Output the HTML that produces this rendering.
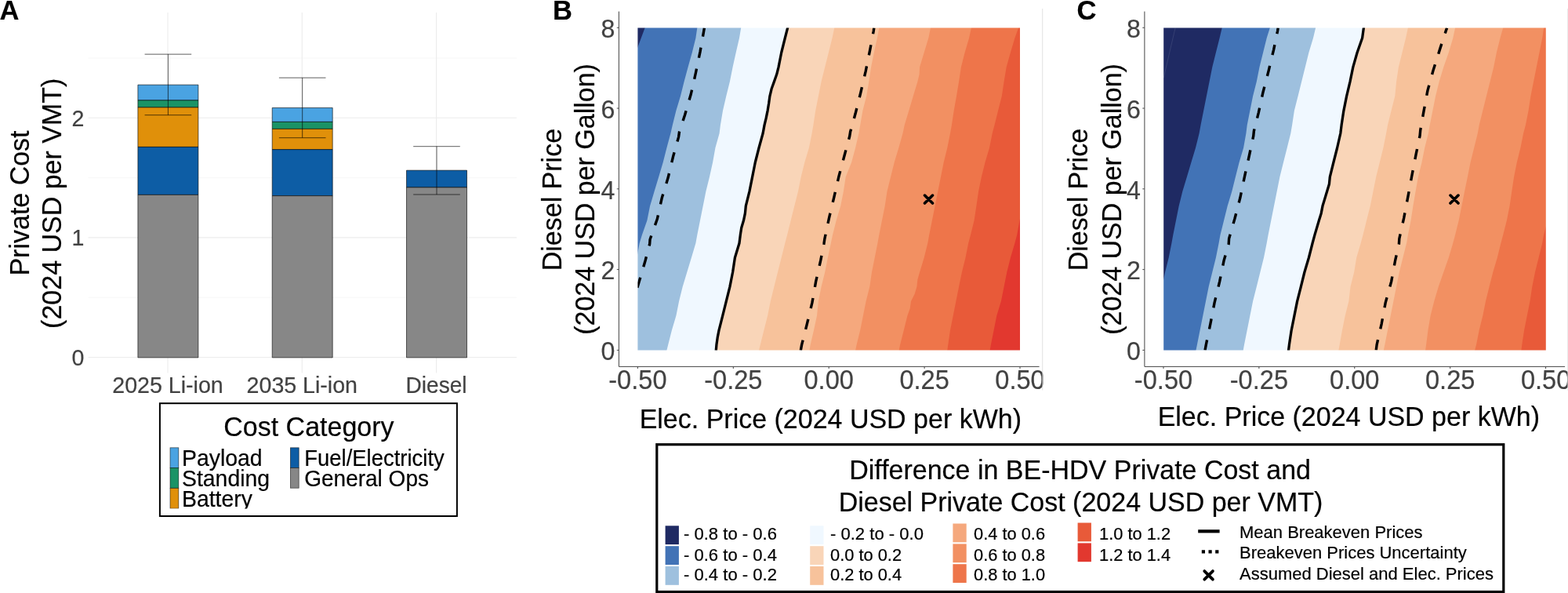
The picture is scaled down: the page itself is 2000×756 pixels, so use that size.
<!DOCTYPE html>
<html lang="en">
<head>
<meta charset="utf-8">
<title>Private cost comparison figure</title>
<style>
html,body{margin:0;padding:0;background:#fff;}
body{width:2000px;height:756px;overflow:hidden;}
svg{display:block;}
svg text{font-family:"Liberation Sans", sans-serif;stroke-width:0.2px;stroke-linejoin:round;}
</style>
</head>
<body>
<svg width="2000" height="756" viewBox="0 0 2000 756" role="img" aria-label="Private cost comparison of battery-electric and diesel heavy-duty vehicles">
<rect x="0" y="0" width="2000" height="756" fill="#ffffff"/>
<g id="panelA">
<line x1="112.5" x2="659" y1="379.20" y2="379.20" stroke="#f3f3f3" stroke-width="0.7"/>
<line x1="112.5" x2="659" y1="226.60" y2="226.60" stroke="#f3f3f3" stroke-width="0.7"/>
<line x1="112.5" x2="659" y1="74.00" y2="74.00" stroke="#f3f3f3" stroke-width="0.7"/>
<line x1="112.5" x2="659" y1="455.50" y2="455.50" stroke="#ececec" stroke-width="1.1"/>
<line x1="112.5" x2="659" y1="302.90" y2="302.90" stroke="#ececec" stroke-width="1.1"/>
<line x1="112.5" x2="659" y1="150.30" y2="150.30" stroke="#ececec" stroke-width="1.1"/>
<line x1="214.0" x2="214.0" y1="16" y2="475.5" stroke="#ececec" stroke-width="1.1"/>
<line x1="385.3" x2="385.3" y1="16" y2="475.5" stroke="#ececec" stroke-width="1.1"/>
<line x1="556.6" x2="556.6" y1="16" y2="475.5" stroke="#ececec" stroke-width="1.1"/>
<rect x="175.90" y="108.15" width="77.0" height="19.75" fill="#4AA3E2" stroke="#000" stroke-opacity="0.7" stroke-width="0.85" stroke-linejoin="round"/>
<rect x="175.90" y="127.90" width="77.0" height="9.00" fill="#1A9366" stroke="#000" stroke-opacity="0.7" stroke-width="0.85" stroke-linejoin="round"/>
<rect x="175.90" y="136.90" width="77.0" height="50.50" fill="#E0900A" stroke="#000" stroke-opacity="0.7" stroke-width="0.85" stroke-linejoin="round"/>
<rect x="175.90" y="187.40" width="77.0" height="61.00" fill="#0D5DA5" stroke="#000" stroke-opacity="0.7" stroke-width="0.85" stroke-linejoin="round"/>
<rect x="175.90" y="248.40" width="77.0" height="207.50" fill="#878787" stroke="#000" stroke-opacity="0.7" stroke-width="0.85" stroke-linejoin="round"/>
<rect x="347.20" y="137.40" width="77.0" height="18.00" fill="#4AA3E2" stroke="#000" stroke-opacity="0.7" stroke-width="0.85" stroke-linejoin="round"/>
<rect x="347.20" y="155.40" width="77.0" height="9.00" fill="#1A9366" stroke="#000" stroke-opacity="0.7" stroke-width="0.85" stroke-linejoin="round"/>
<rect x="347.20" y="164.40" width="77.0" height="26.25" fill="#E0900A" stroke="#000" stroke-opacity="0.7" stroke-width="0.85" stroke-linejoin="round"/>
<rect x="347.20" y="190.65" width="77.0" height="59.00" fill="#0D5DA5" stroke="#000" stroke-opacity="0.7" stroke-width="0.85" stroke-linejoin="round"/>
<rect x="347.20" y="249.65" width="77.0" height="206.25" fill="#878787" stroke="#000" stroke-opacity="0.7" stroke-width="0.85" stroke-linejoin="round"/>
<rect x="518.50" y="217.15" width="77.0" height="21.75" fill="#0D5DA5" stroke="#000" stroke-opacity="0.7" stroke-width="0.85" stroke-linejoin="round"/>
<rect x="518.50" y="238.90" width="77.0" height="217.00" fill="#878787" stroke="#000" stroke-opacity="0.7" stroke-width="0.85" stroke-linejoin="round"/>
<path d="M184.60 69.15H244.20M214.40 69.15V146.70M184.60 146.70H244.20" fill="none" stroke="#000" stroke-opacity="0.7" stroke-width="0.9"/>
<path d="M355.90 99.15H415.50M385.70 99.15V175.70M355.90 175.70H415.50" fill="none" stroke="#000" stroke-opacity="0.7" stroke-width="0.9"/>
<path d="M527.20 186.70H586.80M557.00 186.70V248.00M527.20 248.00H586.80" fill="none" stroke="#000" stroke-opacity="0.7" stroke-width="0.9"/>
<text transform="translate(107.30 465.80) scale(1 1.05)" font-size="28.6" fill="#424242" stroke="#424242" text-anchor="end">0</text>
<text transform="translate(107.30 313.20) scale(1 1.05)" font-size="28.6" fill="#424242" stroke="#424242" text-anchor="end">1</text>
<text transform="translate(107.30 160.60) scale(1 1.05)" font-size="28.6" fill="#424242" stroke="#424242" text-anchor="end">2</text>
<text transform="translate(214.00 501.00) scale(1 1.04)" font-size="28.6" fill="#424242" stroke="#424242" text-anchor="middle">2025 Li-ion</text>
<text transform="translate(385.30 501.00) scale(1 1.04)" font-size="28.6" fill="#424242" stroke="#424242" text-anchor="middle">2035 Li-ion</text>
<text transform="translate(556.60 501.00) scale(1 1.04)" font-size="28.6" fill="#424242" stroke="#424242" text-anchor="middle" textLength="78.0" lengthAdjust="spacingAndGlyphs">Diesel</text>
<text transform="translate(37.40 259.00) rotate(-90) scale(1 1.03)" font-size="34" fill="#000" stroke="#000" text-anchor="middle">Private Cost</text>
<text transform="translate(77.90 259.30) rotate(-90) scale(1 1.03)" font-size="34" fill="#000" stroke="#000" text-anchor="middle">(2024 USD per VMT)</text>
<text transform="translate(-0.50 24.90) scale(1 1.03)" font-size="34.5" fill="#000" stroke="#000" font-weight="bold">A</text>
<rect x="203.9" y="514.2" width="379.0" height="143.8" fill="#fff" stroke="#000" stroke-width="2"/>
<text transform="translate(393.90 556.40) scale(1 1.03)" font-size="34" fill="#000" stroke="#000" text-anchor="middle">Cost Category</text>
<clipPath id="clipLA"><rect x="205" y="515" width="377" height="133.6"/></clipPath>
<g clip-path="url(#clipLA)">
<rect x="217.0" y="570.8" width="10.8" height="25.8" fill="#4AA3E2" stroke="#000" stroke-opacity="0.62" stroke-width="0.8"/>
<text transform="translate(232.00 594.30) scale(1 1.03)" font-size="28.4" fill="#000" stroke="#000">Payload</text>
<rect x="217.0" y="596.4" width="10.8" height="25.8" fill="#1A9366" stroke="#000" stroke-opacity="0.62" stroke-width="0.8"/>
<text transform="translate(232.00 620.00) scale(1 1.03)" font-size="28.4" fill="#000" stroke="#000">Standing</text>
<rect x="217.0" y="622.4" width="10.8" height="25.8" fill="#E0900A" stroke="#000" stroke-opacity="0.62" stroke-width="0.8"/>
<text transform="translate(232.00 646.00) scale(1 1.03)" font-size="28.4" fill="#000" stroke="#000">Battery</text>
<rect x="370.4" y="570.8" width="10.8" height="25.8" fill="#0D5DA5" stroke="#000" stroke-opacity="0.62" stroke-width="0.8"/>
<text transform="translate(388.20 594.30) scale(1 1.03)" font-size="28.4" fill="#000" stroke="#000" textLength="178.6" lengthAdjust="spacingAndGlyphs">Fuel/Electricity</text>
<rect x="370.4" y="596.4" width="10.8" height="25.8" fill="#878787" stroke="#000" stroke-opacity="0.62" stroke-width="0.8"/>
<text transform="translate(388.20 620.00) scale(1 1.03)" font-size="28.4" fill="#000" stroke="#000" textLength="158.8" lengthAdjust="spacingAndGlyphs">General Ops</text>
</g>
</g>
<svg x="0" y="0" width="1330.4" height="756" viewBox="0 0 1330.4 756" overflow="hidden">
<g id="B">
<rect x="812.40" y="34.5" width="489.60" height="413.10" fill="#1F2A63"/>
<path d="M1303.0 448.6L1303.0 33.5L823.4 33.5L822.6 35.6L813.3 60.6L811.4 65.7L811.4 448.6Z" fill="#4273B6"/>
<path d="M1303.0 448.6L1303.0 33.5L889.6 33.5L889.3 35.6L887.4 48.5L882.8 67.0L877.6 85.6L872.6 104.1L868.0 122.6L862.4 141.1L857.8 159.6L855.4 170.0L850.4 188.5L845.7 207.0L840.2 225.6L834.6 244.1L829.1 262.6L825.4 281.1L818.9 299.6L815.7 310.0L813.3 323.0L811.4 333.3L811.4 448.6Z" fill="#9EC0DE"/>
<path d="M1303.0 448.6L1303.0 33.5L945.6 33.5L945.2 35.6L943.0 48.5L938.7 67.0L934.6 85.6L930.9 104.1L926.3 122.6L922.0 141.1L918.9 159.6L917.6 170.0L912.4 188.5L909.1 207.0L905.0 225.6L900.4 244.1L896.7 262.6L893.0 281.1L889.3 299.6L887.4 310.0L881.9 328.5L876.3 347.0L870.7 365.6L866.1 384.1L862.4 402.6L856.9 421.1L852.2 439.6L850.4 446.7L849.9 448.6Z" fill="#F0F8FF"/>
<path d="M1303.0 448.6L1303.0 33.5L1005.1 33.5L1004.6 35.6L1001.3 48.5L996.7 67.0L993.0 85.6L990.7 94.8L987.4 104.1L984.1 113.3L981.9 122.6L980.6 131.9L979.1 141.1L977.2 150.4L975.0 159.6L973.1 170.0L968.0 188.5L963.3 207.0L959.6 225.6L955.9 244.1L951.3 262.6L950.4 271.9L948.5 281.1L945.7 290.4L944.3 299.6L943.0 310.0L937.4 328.5L934.6 347.0L930.9 365.6L926.3 384.1L921.7 402.6L917.0 421.1L915.2 430.4L913.9 439.6L913.3 446.7L913.1 448.6Z" fill="#F9D5B8"/>
<path d="M1303.0 448.6L1303.0 33.5L1064.8 33.5L1064.3 35.6L1061.5 48.5L1056.9 67.0L1052.2 85.6L1047.6 104.1L1043.9 122.6L1040.2 141.1L1037.4 159.6L1035.6 170.0L1031.9 188.5L1026.3 207.0L1021.7 225.6L1018.0 244.1L1013.3 262.6L1008.7 281.1L1004.1 299.6L1001.3 310.0L996.7 328.5L992.0 347.0L987.4 365.6L982.8 384.1L979.1 402.6L974.4 421.1L969.8 439.6L968.0 446.7L967.5 448.6Z" fill="#F7C29B"/>
<path d="M1303.0 448.6L1303.0 33.5L1121.7 33.5L1121.3 35.6L1118.9 48.5L1114.8 67.0L1111.1 85.6L1108.3 104.1L1105.2 122.6L1100.4 141.1L1097.2 159.6L1095.4 170.0L1091.1 188.5L1086.1 207.0L1078.7 225.6L1075.9 244.1L1072.2 262.6L1066.7 281.1L1062.0 299.6L1059.8 310.0L1055.9 328.5L1052.2 347.0L1047.6 365.6L1043.9 384.1L1042.0 402.6L1038.0 421.1L1033.7 439.6L1032.4 446.7L1032.1 448.6Z" fill="#F5A87D"/>
<path d="M1303.0 448.6L1303.0 33.5L1187.4 33.5L1187.0 35.6L1184.3 48.5L1178.7 67.0L1173.1 85.6L1172.6 94.8L1170.4 104.1L1164.8 122.6L1159.3 141.1L1153.7 159.6L1151.5 170.0L1146.3 188.5L1140.7 207.0L1136.1 225.6L1131.5 244.1L1128.7 262.6L1125.0 281.1L1121.3 299.6L1119.4 310.0L1115.7 328.5L1112.0 347.0L1109.3 365.6L1104.6 384.1L1100.9 402.6L1097.2 421.1L1092.6 439.6L1091.1 446.7L1090.7 448.6Z" fill="#F29062"/>
<path d="M1303.0 448.6L1303.0 33.5L1239.4 33.5L1238.9 35.6L1236.1 48.5L1230.6 67.0L1225.9 85.6L1223.1 104.1L1220.0 122.6L1216.7 141.1L1213.9 159.6L1212.0 170.0L1208.3 188.5L1203.7 207.0L1200.0 225.6L1196.3 244.1L1192.6 262.6L1188.9 281.1L1185.2 299.6L1183.3 310.0L1178.7 328.5L1173.1 347.0L1170.4 356.3L1169.4 365.6L1166.7 374.8L1162.0 384.1L1160.7 393.3L1157.4 402.6L1152.8 421.1L1148.1 439.6L1146.7 446.7L1146.3 448.6Z" fill="#EE754A"/>
<path d="M1303.0 448.6L1303.0 33.5L1299.9 33.5L1299.1 35.6L1294.4 48.5L1288.9 67.0L1283.7 85.6L1280.6 104.1L1277.8 122.6L1273.1 141.1L1268.5 159.6L1265.7 170.0L1262.0 188.5L1256.5 207.0L1251.9 225.6L1248.1 244.1L1245.4 262.6L1242.6 281.1L1238.0 299.6L1235.2 310.0L1231.5 328.5L1226.9 347.0L1223.1 365.6L1219.4 384.1L1215.7 402.6L1212.0 421.1L1209.3 439.6L1208.3 446.7L1208.0 448.6Z" fill="#E85A39"/>
<path d="M1303.0 448.6L1303.0 267.8L1300.9 279.3L1297.2 299.6L1294.4 310.0L1288.9 328.5L1284.3 347.0L1280.6 365.6L1276.9 384.1L1271.3 402.6L1267.6 421.1L1263.9 439.6L1262.6 446.7L1262.3 448.6Z" fill="#E2382F"/>
<path d="M1006.1 29.6L1004.6 35.6L1001.3 48.5L996.7 67.0L993.0 85.6L990.7 94.8L987.4 104.1L984.1 113.3L981.9 122.6L980.6 131.9L979.1 141.1L977.2 150.4L975.0 159.6L973.1 170.0L968.0 188.5L963.3 207.0L959.6 225.6L955.9 244.1L951.3 262.6L950.4 271.9L948.5 281.1L945.7 290.4L944.3 299.6L943.0 310.0L937.4 328.5L934.6 347.0L930.9 365.6L926.3 384.1L921.7 402.6L917.0 421.1L915.2 430.4L913.9 439.6L913.3 446.7L912.8 452.7" fill="none" stroke="#000" stroke-width="3.3" stroke-linejoin="round"/>
<path d="M898.4 35.6L897.6 40.2L893.0 66.1L887.4 93.0L881.3 120.0L873.5 146.7L866.5 168.0L865.6 174.6L858.7 199.1L852.2 226.3L844.3 252.2L838.3 279.3L829.1 305.2L828.7 311.0L823.1 332.2L815.2 359.1L813.3 365.6L811.8 370.6" fill="none" stroke="#000" stroke-width="3.4" stroke-dasharray="13.4 14.2" stroke-dashoffset="2.2" stroke-linejoin="round"/>
<path d="M1114.8 35.6L1114.3 39.3L1109.6 64.1L1104.1 91.1L1097.8 118.1L1091.1 144.8L1084.6 168.0L1083.7 173.7L1077.2 197.8L1070.0 224.6L1063.9 251.1L1057.4 278.3L1051.9 304.3L1050.9 311.0L1046.7 332.2L1040.6 359.1L1035.9 385.9L1029.4 412.8L1022.6 439.6L1021.3 446.7L1020.4 451.7" fill="none" stroke="#000" stroke-width="3.4" stroke-dasharray="13.4 14.2" stroke-dashoffset="5.6" stroke-linejoin="round"/>
<path d="M801.40 23.50H1313.00V458.60H801.40Z M813.40 35.50V446.60H1301.00V35.50Z" fill="#fff" fill-rule="evenodd"/>
<path d="M1179.50 249.10L1189.50 259.10M1179.50 259.10L1189.50 249.10" stroke="#000" stroke-width="3.6" stroke-linecap="round" fill="none"/>
<path d="M789.40 14.6V467.4H1325.60" fill="none" stroke="#444" stroke-width="1.0"/>
<line x1="786.80" x2="789.40" y1="446.40" y2="446.40" stroke="#4a4a4a" stroke-width="1.0"/>
<text transform="translate(784.30 459.10) scale(1 1.03)" font-size="32.2" fill="#424242" stroke="#424242" text-anchor="end">0</text>
<line x1="786.80" x2="789.40" y1="343.62" y2="343.62" stroke="#4a4a4a" stroke-width="1.0"/>
<text transform="translate(784.30 356.32) scale(1 1.03)" font-size="32.2" fill="#424242" stroke="#424242" text-anchor="end">2</text>
<line x1="786.80" x2="789.40" y1="240.84" y2="240.84" stroke="#4a4a4a" stroke-width="1.0"/>
<text transform="translate(784.30 253.54) scale(1 1.03)" font-size="32.2" fill="#424242" stroke="#424242" text-anchor="end">4</text>
<line x1="786.80" x2="789.40" y1="138.06" y2="138.06" stroke="#4a4a4a" stroke-width="1.0"/>
<text transform="translate(784.30 150.76) scale(1 1.03)" font-size="32.2" fill="#424242" stroke="#424242" text-anchor="end">6</text>
<line x1="786.80" x2="789.40" y1="35.28" y2="35.28" stroke="#4a4a4a" stroke-width="1.0"/>
<text transform="translate(784.30 47.98) scale(1 1.03)" font-size="32.2" fill="#424242" stroke="#424242" text-anchor="end">8</text>
<line x1="813.40" x2="813.40" y1="467.4" y2="470.0" stroke="#444" stroke-width="1.0"/>
<text transform="translate(813.40 496.10) scale(1 1.08)" font-size="32.6" fill="#424242" stroke="#424242" text-anchor="middle">-0.50</text>
<line x1="935.30" x2="935.30" y1="467.4" y2="470.0" stroke="#444" stroke-width="1.0"/>
<text transform="translate(935.30 496.10) scale(1 1.08)" font-size="32.6" fill="#424242" stroke="#424242" text-anchor="middle">-0.25</text>
<line x1="1057.20" x2="1057.20" y1="467.4" y2="470.0" stroke="#444" stroke-width="1.0"/>
<text transform="translate(1057.20 496.10) scale(1 1.08)" font-size="32.6" fill="#424242" stroke="#424242" text-anchor="middle">0.00</text>
<line x1="1179.10" x2="1179.10" y1="467.4" y2="470.0" stroke="#444" stroke-width="1.0"/>
<text transform="translate(1179.10 496.10) scale(1 1.08)" font-size="32.6" fill="#424242" stroke="#424242" text-anchor="middle">0.25</text>
<line x1="1301.00" x2="1301.00" y1="467.4" y2="470.0" stroke="#444" stroke-width="1.0"/>
<text transform="translate(1301.00 496.10) scale(1 1.08)" font-size="32.6" fill="#424242" stroke="#424242" text-anchor="middle">0.50</text>
<text transform="translate(715.80 254.60) rotate(-90) scale(1 1.03)" font-size="34" fill="#000" stroke="#000" text-anchor="middle">Diesel Price</text>
<text transform="translate(758.30 254.00) rotate(-90) scale(1 1.03)" font-size="34" fill="#000" stroke="#000" text-anchor="middle">(2024 USD per Gallon)</text>
<text transform="translate(1059.30 546.00) scale(1 1.03)" font-size="34" fill="#000" stroke="#000" text-anchor="middle">Elec. Price (2024 USD per kWh)</text>
</g>
</svg>
<line x1="1329.7" x2="1329.7" y1="11" y2="497.5" stroke="#d4d4d4" stroke-width="0.7"/>
<g id="C">
<rect x="1483.20" y="34.5" width="489.60" height="413.10" fill="#1F2A63"/>
<path d="M1973.8 448.6L1973.8 33.5L1559.2 33.5L1558.7 35.6L1555.6 48.5L1550.9 67.0L1546.3 85.6L1542.6 104.1L1538.9 122.6L1535.2 141.1L1531.5 159.6L1529.6 170.0L1525.0 188.5L1519.4 207.0L1513.9 225.6L1508.3 244.1L1503.7 262.6L1500.0 281.1L1496.3 299.6L1494.4 310.0L1490.7 328.5L1486.1 347.0L1484.3 355.4L1482.2 365.2L1482.2 448.6Z" fill="#4273B6"/>
<path d="M1973.8 448.6L1973.8 33.5L1620.5 33.5L1619.8 35.6L1615.7 48.5L1611.1 67.0L1606.5 85.6L1602.8 104.1L1598.1 122.6L1594.4 141.1L1590.7 159.6L1589.4 170.0L1586.1 188.5L1580.6 207.0L1575.9 225.6L1571.3 244.1L1565.7 262.6L1561.1 281.1L1556.5 299.6L1554.6 310.0L1550.9 328.5L1546.3 347.0L1541.7 365.6L1538.0 384.1L1534.3 402.6L1530.6 421.1L1526.9 439.6L1525.4 446.7L1525.0 448.6Z" fill="#9EC0DE"/>
<path d="M1973.8 448.6L1973.8 33.5L1678.6 33.5L1678.1 35.6L1675.0 48.5L1669.4 67.0L1664.8 85.6L1660.2 104.1L1655.6 122.6L1650.9 141.1L1648.1 159.6L1646.3 170.0L1641.7 188.5L1637.0 207.0L1632.4 225.6L1628.7 244.1L1625.0 262.6L1621.3 281.1L1617.6 299.6L1615.7 310.0L1612.0 328.5L1607.4 347.0L1602.8 365.6L1598.1 384.1L1594.4 402.6L1590.7 421.1L1587.0 439.6L1585.7 446.7L1585.4 448.6Z" fill="#F0F8FF"/>
<path d="M1973.8 448.6L1973.8 33.5L1739.7 33.5L1739.4 35.6L1737.6 48.5L1731.1 67.0L1725.8 85.6L1722.0 104.1L1717.6 122.6L1713.9 141.1L1711.1 159.6L1709.8 170.0L1705.6 188.5L1700.9 207.0L1696.3 225.6L1695.4 234.8L1692.6 244.1L1687.0 262.6L1685.2 271.9L1682.4 281.1L1676.9 299.6L1674.1 310.0L1669.4 328.5L1663.9 347.0L1659.3 365.6L1654.6 384.1L1650.9 402.6L1647.2 421.1L1644.4 439.6L1643.5 446.7L1643.3 448.6Z" fill="#F9D5B8"/>
<path d="M1973.8 448.6L1973.8 33.5L1796.4 33.5L1795.9 35.6L1793.1 48.5L1788.5 67.0L1783.9 85.6L1781.1 104.1L1779.3 122.6L1774.6 141.1L1770.0 159.6L1768.1 170.0L1764.4 188.5L1759.8 207.0L1755.2 225.6L1751.5 244.1L1747.8 262.6L1743.1 281.1L1738.5 299.6L1735.7 310.0L1730.2 328.5L1727.2 347.0L1722.5 365.6L1720.4 384.1L1715.7 402.6L1712.0 421.1L1708.7 439.6L1707.4 446.7L1707.1 448.6Z" fill="#F7C29B"/>
<path d="M1973.8 448.6L1973.8 33.5L1856.6 33.5L1856.1 35.6L1853.3 48.5L1847.8 67.0L1841.3 85.6L1835.7 104.1L1831.1 122.6L1827.4 141.1L1823.7 159.6L1821.9 170.0L1817.2 188.5L1813.5 207.0L1808.9 225.6L1805.6 244.1L1802.4 262.6L1799.6 281.1L1795.9 299.6L1794.1 310.0L1789.4 328.5L1784.8 347.0L1781.1 365.6L1777.4 384.1L1773.7 402.6L1770.0 421.1L1766.3 439.6L1764.8 446.7L1764.4 448.6Z" fill="#F5A87D"/>
<path d="M1973.8 448.6L1973.8 33.5L1917.8 33.5L1917.2 35.6L1913.5 48.5L1908.9 67.0L1905.2 85.6L1900.6 104.1L1895.9 122.6L1891.3 141.1L1886.7 159.6L1884.8 170.0L1880.2 188.5L1875.6 207.0L1871.9 225.6L1868.1 244.1L1864.4 262.6L1860.7 281.1L1856.1 299.6L1853.3 310.0L1847.8 328.5L1841.3 347.0L1834.8 365.6L1829.3 384.1L1824.6 402.6L1821.5 421.1L1819.1 439.6L1818.1 446.7L1817.8 448.6Z" fill="#F29062"/>
<path d="M1973.8 448.6L1973.8 33.5L1969.4 33.5L1969.1 35.6L1967.2 48.5L1963.5 67.0L1959.8 85.6L1956.1 104.1L1952.4 122.6L1949.6 141.1L1945.9 159.6L1943.1 170.0L1939.4 188.5L1934.8 207.0L1931.1 225.6L1928.3 244.1L1925.6 262.6L1921.9 281.1L1917.2 299.6L1914.4 310.0L1909.8 328.5L1904.3 347.0L1899.6 365.6L1895.0 384.1L1891.3 402.6L1886.7 421.1L1883.0 439.6L1881.1 446.7L1880.6 448.6Z" fill="#EE754A"/>
<path d="M1973.8 448.6L1973.8 281.0L1971.9 288.5L1969.1 299.6L1967.2 310.0L1962.6 328.5L1958.0 347.0L1954.3 365.6L1951.5 384.1L1947.8 402.6L1944.1 421.1L1941.3 439.6L1940.4 446.7L1940.2 448.6Z" fill="#E85A39"/>
<path d="M1740.2 29.6L1739.4 35.6L1737.6 48.5L1731.1 67.0L1725.8 85.6L1722.0 104.1L1717.6 122.6L1713.9 141.1L1711.1 159.6L1709.8 170.0L1705.6 188.5L1700.9 207.0L1696.3 225.6L1695.4 234.8L1692.6 244.1L1687.0 262.6L1685.2 271.9L1682.4 281.1L1676.9 299.6L1674.1 310.0L1669.4 328.5L1663.9 347.0L1659.3 365.6L1654.6 384.1L1650.9 402.6L1647.2 421.1L1644.4 439.6L1643.5 446.7L1642.7 452.7" fill="none" stroke="#000" stroke-width="3.3" stroke-linejoin="round"/>
<path d="M1630.2 35.6L1629.6 39.3L1624.6 63.3L1618.1 90.4L1611.1 117.2L1605.2 144.1L1599.4 167.0L1598.7 173.7L1593.5 197.8L1587.6 224.6L1582.0 251.5L1575.0 278.5L1567.6 304.3L1567.2 311.0L1561.1 332.2L1555.6 359.1L1549.1 385.9L1543.9 412.8L1538.3 439.6L1537.0 446.7L1536.1 451.7" fill="none" stroke="#000" stroke-width="3.4" stroke-dasharray="13.4 14.2" stroke-dashoffset="5.7" stroke-linejoin="round"/>
<path d="M1845.6 35.6L1844.4 38.9L1836.7 62.4L1828.3 88.9L1820.9 115.6L1815.9 142.4L1811.7 166.1L1811.1 172.8L1806.1 196.9L1800.9 223.7L1795.9 250.6L1790.7 277.8L1784.8 304.3L1784.4 311.0L1779.6 332.2L1774.6 359.1L1767.2 385.9L1762.2 412.8L1756.1 439.6L1755.2 446.7L1754.6 451.7" fill="none" stroke="#000" stroke-width="3.4" stroke-dasharray="13.4 14.2" stroke-dashoffset="6.2" stroke-linejoin="round"/>
<path d="M1499.1 35.6L1486.1 91.1L1484.3 99" fill="none" stroke="#fff" stroke-opacity="0.14" stroke-width="0.7"/>
<path d="M1472.20 23.50H1983.80V458.60H1472.20Z M1484.20 35.50V446.60H1971.80V35.50Z" fill="#fff" fill-rule="evenodd"/>
<path d="M1850.00 249.10L1860.00 259.10M1850.00 259.10L1860.00 249.10" stroke="#000" stroke-width="3.6" stroke-linecap="round" fill="none"/>
<path d="M1459.90 14.6V467.4H1996.10" fill="none" stroke="#444" stroke-width="1.0"/>
<line x1="1457.30" x2="1459.90" y1="446.40" y2="446.40" stroke="#4a4a4a" stroke-width="1.0"/>
<text transform="translate(1454.80 459.10) scale(1 1.03)" font-size="32.2" fill="#424242" stroke="#424242" text-anchor="end">0</text>
<line x1="1457.30" x2="1459.90" y1="343.62" y2="343.62" stroke="#4a4a4a" stroke-width="1.0"/>
<text transform="translate(1454.80 356.32) scale(1 1.03)" font-size="32.2" fill="#424242" stroke="#424242" text-anchor="end">2</text>
<line x1="1457.30" x2="1459.90" y1="240.84" y2="240.84" stroke="#4a4a4a" stroke-width="1.0"/>
<text transform="translate(1454.80 253.54) scale(1 1.03)" font-size="32.2" fill="#424242" stroke="#424242" text-anchor="end">4</text>
<line x1="1457.30" x2="1459.90" y1="138.06" y2="138.06" stroke="#4a4a4a" stroke-width="1.0"/>
<text transform="translate(1454.80 150.76) scale(1 1.03)" font-size="32.2" fill="#424242" stroke="#424242" text-anchor="end">6</text>
<line x1="1457.30" x2="1459.90" y1="35.28" y2="35.28" stroke="#4a4a4a" stroke-width="1.0"/>
<text transform="translate(1454.80 47.98) scale(1 1.03)" font-size="32.2" fill="#424242" stroke="#424242" text-anchor="end">8</text>
<line x1="1483.99" x2="1483.99" y1="467.4" y2="470.0" stroke="#444" stroke-width="1.0"/>
<text transform="translate(1483.99 496.10) scale(1 1.08)" font-size="32.6" fill="#424242" stroke="#424242" text-anchor="middle">-0.50</text>
<line x1="1605.89" x2="1605.89" y1="467.4" y2="470.0" stroke="#444" stroke-width="1.0"/>
<text transform="translate(1605.89 496.10) scale(1 1.08)" font-size="32.6" fill="#424242" stroke="#424242" text-anchor="middle">-0.25</text>
<line x1="1727.79" x2="1727.79" y1="467.4" y2="470.0" stroke="#444" stroke-width="1.0"/>
<text transform="translate(1727.79 496.10) scale(1 1.08)" font-size="32.6" fill="#424242" stroke="#424242" text-anchor="middle">0.00</text>
<line x1="1849.69" x2="1849.69" y1="467.4" y2="470.0" stroke="#444" stroke-width="1.0"/>
<text transform="translate(1849.69 496.10) scale(1 1.08)" font-size="32.6" fill="#424242" stroke="#424242" text-anchor="middle">0.25</text>
<line x1="1971.59" x2="1971.59" y1="467.4" y2="470.0" stroke="#444" stroke-width="1.0"/>
<text transform="translate(1971.59 496.10) scale(1 1.08)" font-size="32.6" fill="#424242" stroke="#424242" text-anchor="middle">0.50</text>
<text transform="translate(1387.10 254.60) rotate(-90) scale(1 1.03)" font-size="34" fill="#000" stroke="#000" text-anchor="middle">Diesel Price</text>
<text transform="translate(1429.60 254.00) rotate(-90) scale(1 1.03)" font-size="34" fill="#000" stroke="#000" text-anchor="middle">(2024 USD per Gallon)</text>
<text transform="translate(1720.30 543.00) scale(1 1.03)" font-size="34" fill="#000" stroke="#000" text-anchor="middle">Elec. Price (2024 USD per kWh)</text>
</g>
<line x1="1999.6" x2="1999.6" y1="11" y2="497.5" stroke="#dcdcdc" stroke-width="0.7"/>
<text transform="translate(705.00 24.90) scale(1 1.03)" font-size="34.5" fill="#000" stroke="#000" font-weight="bold">B</text>
<text transform="translate(1373.60 24.90) scale(1 1.03)" font-size="34.5" fill="#000" stroke="#000" font-weight="bold">C</text>
<g id="legendBC">
<rect x="837.8" y="566.7" width="1080.0" height="187.8" fill="#fff" stroke="#000" stroke-width="3.2"/>
<text transform="translate(1377.60 610.70) scale(1 1.03)" font-size="34" fill="#000" stroke="#000" text-anchor="middle">Difference in BE-HDV Private Cost and</text>
<text transform="translate(1378.50 651.70) scale(1 1.03)" font-size="34" fill="#000" stroke="#000" text-anchor="middle">Diesel Private Cost (2024 USD per VMT)</text>
<rect x="848.6" y="670.30" width="17.3" height="23.8" fill="#1F2A63"/>
<text transform="translate(872.00 687.90) scale(1 1.03)" font-size="21.0" fill="#000" stroke="#000" textLength="118.9" lengthAdjust="spacingAndGlyphs">- 0.8 to - 0.6</text>
<rect x="848.6" y="696.20" width="17.3" height="23.8" fill="#4273B6"/>
<text transform="translate(872.00 714.50) scale(1 1.03)" font-size="21.0" fill="#000" stroke="#000" textLength="118.9" lengthAdjust="spacingAndGlyphs">- 0.6 to - 0.4</text>
<rect x="848.6" y="722.00" width="17.3" height="23.8" fill="#9EC0DE"/>
<text transform="translate(872.00 740.40) scale(1 1.03)" font-size="21.0" fill="#000" stroke="#000" textLength="118.9" lengthAdjust="spacingAndGlyphs">- 0.4 to - 0.2</text>
<rect x="1033.2" y="670.30" width="17.3" height="23.8" fill="#F0F8FF"/>
<text transform="translate(1059.00 687.90) scale(1 1.03)" font-size="21.0" fill="#000" stroke="#000" textLength="118.9" lengthAdjust="spacingAndGlyphs">- 0.2 to - 0.0</text>
<rect x="1033.2" y="696.20" width="17.3" height="23.8" fill="#F9D5B8"/>
<text transform="translate(1059.00 714.50) scale(1 1.03)" font-size="21.0" fill="#000" stroke="#000" textLength="91.1" lengthAdjust="spacingAndGlyphs">0.0 to 0.2</text>
<rect x="1033.2" y="722.00" width="17.3" height="23.8" fill="#F7C29B"/>
<text transform="translate(1059.00 740.40) scale(1 1.03)" font-size="21.0" fill="#000" stroke="#000" textLength="91.1" lengthAdjust="spacingAndGlyphs">0.2 to 0.4</text>
<rect x="1215.4" y="667.50" width="17.3" height="23.8" fill="#F5A87D"/>
<text transform="translate(1242.00 687.90) scale(1 1.03)" font-size="21.0" fill="#000" stroke="#000" textLength="91.1" lengthAdjust="spacingAndGlyphs">0.4 to 0.6</text>
<rect x="1215.4" y="693.40" width="17.3" height="23.8" fill="#F29062"/>
<text transform="translate(1242.00 714.50) scale(1 1.03)" font-size="21.0" fill="#000" stroke="#000" textLength="91.1" lengthAdjust="spacingAndGlyphs">0.6 to 0.8</text>
<rect x="1215.4" y="719.20" width="17.3" height="23.8" fill="#EE754A"/>
<text transform="translate(1242.00 740.40) scale(1 1.03)" font-size="21.0" fill="#000" stroke="#000" textLength="91.1" lengthAdjust="spacingAndGlyphs">0.8 to 1.0</text>
<rect x="1374.6" y="666.50" width="17.3" height="23.8" fill="#E85A39"/>
<text transform="translate(1402.00 687.90) scale(1 1.03)" font-size="21.0" fill="#000" stroke="#000" textLength="91.1" lengthAdjust="spacingAndGlyphs">1.0 to 1.2</text>
<rect x="1374.6" y="692.40" width="17.3" height="23.8" fill="#E2382F"/>
<text transform="translate(1402.00 714.50) scale(1 1.03)" font-size="21.0" fill="#000" stroke="#000" textLength="91.1" lengthAdjust="spacingAndGlyphs">1.2 to 1.4</text>
<line x1="1528.2" x2="1555.6" y1="677.3" y2="677.3" stroke="#000" stroke-width="4.2"/>
<line x1="1528.4" x2="1555.4" y1="703.4" y2="703.4" stroke="#000" stroke-width="4.2" stroke-dasharray="4.2 4.5" stroke-dashoffset="4.3"/>
<path d="M1536.30 728.10L1546.90 738.70M1536.30 738.70L1546.90 728.10" stroke="#000" stroke-width="3.8" stroke-linecap="round" fill="none"/>
<text transform="translate(1581.00 685.70) scale(1 1.03)" font-size="22" fill="#000" stroke="#000">Mean Breakeven Prices</text>
<text transform="translate(1581.00 711.90) scale(1 1.03)" font-size="22" fill="#000" stroke="#000">Breakeven Prices Uncertainty</text>
<text transform="translate(1581.00 738.60) scale(1 1.03)" font-size="22" fill="#000" stroke="#000">Assumed Diesel and Elec. Prices</text>
</g>
</svg>
</body>
</html>
